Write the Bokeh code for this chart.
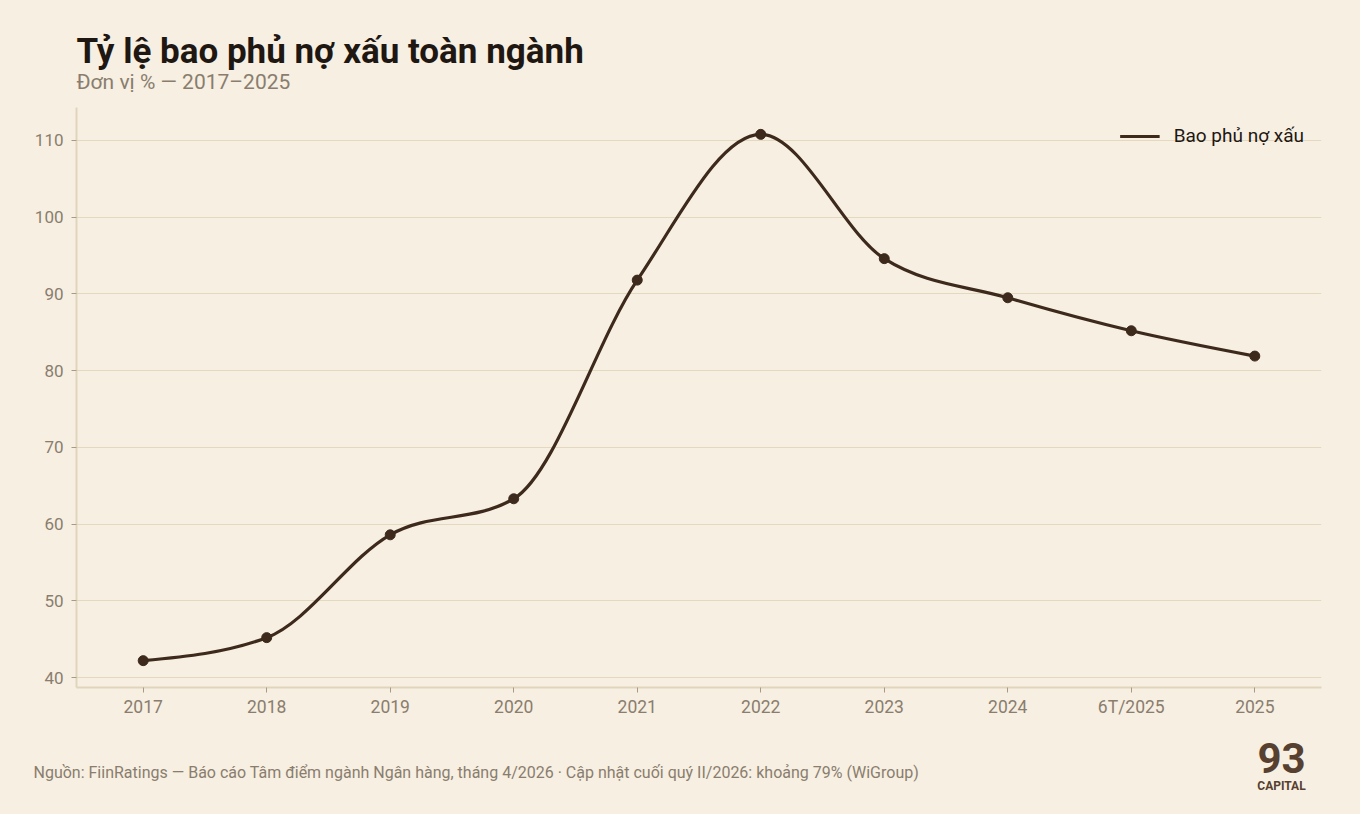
import numpy as np
from bokeh.plotting import figure
from bokeh.layouts import column
from bokeh.models import FixedTicker, Range1d, ColumnDataSource, Legend, LegendItem
from bokeh.core.properties import value
from bokeh.embed import file_html
from bokeh.resources import INLINE

# ---- data ----
categories = ["2017", "2018", "2019", "2020", "2021", "2022", "2023", "2024", "6T/2025", "2025"]
coverage = [42.2, 45.2, 58.6, 63.3, 91.8, 110.8, 94.6, 89.5, 85.2, 81.9]
y_ticks = [40, 50, 60, 70, 80, 90, 100, 110]
series_name = "Bao phủ nợ xấu"
title_text = "Tỷ lệ bao phủ nợ xấu toàn ngành"
subtitle_text = "Đơn vị % — 2017–2025"
source_text = "Nguồn: FiinRatings — Báo cáo Tâm điểm ngành Ngân hàng, tháng 4/2026 · Cập nhật cuối quý II/2026: khoảng 79% (WiGroup)"
logo_big = "93"
logo_small = "CAPITAL"

BG = "#f6efe2"
GRID = "#e4d8bf"
AXIS = "#e0d5bb"
TICK = "#a89a85"
MUTED = "#8a7d6e"
DARK = "#1f1712"
LINE = "#3d2a1c"
LOGO = "#57402f"
FONT = "Roboto"

W, H = 1360, 814
HEAD_H, MAIN_H, FOOT_H = 107, 623, 84   # total 814

def text_panel(h):
    f = figure(width=W, height=h, output_backend="svg", toolbar_location=None,
               x_range=Range1d(0, W), y_range=Range1d(0, h),
               x_axis_type=None, y_axis_type=None,
               min_border=0, min_border_left=0, min_border_right=0,
               min_border_top=0, min_border_bottom=0,
               background_fill_color=BG, border_fill_color=BG, outline_line_color=None)
    f.grid.visible = False
    return f

def put(fig, top, x, baseline_px, size, **kw):
    # baseline_px: page pixel of the text baseline; compensate bokeh's baseline offset
    y = (top + fig.height - baseline_px) + 0.36 * size
    fig.text(x=[x], y=[y], text_font=value(FONT), text_font_size="%gpx" % size,
             text_baseline="alphabetic", **kw)

# ---- header ----
head = text_panel(HEAD_H)
put(head, 0, 76, 64, 35, text=[title_text], text_font_style="bold", text_color=DARK)
put(head, 0, 76, 89, 21, text=[subtitle_text], text_color=MUTED)

# ---- main chart ----
xs = np.arange(len(categories), dtype=float)
ys = np.array(coverage, dtype=float)

# monotone-x cubic (d3 curveMonotoneX) tangents -> bezier segments
h = np.diff(xs)
s = np.diff(ys) / h
t = np.zeros(len(xs))
for i in range(1, len(xs) - 1):
    s0, s1 = s[i - 1], s[i]
    pp = (s0 * h[i] + s1 * h[i - 1]) / (h[i - 1] + h[i])
    t[i] = (np.sign(s0) + np.sign(s1)) * min(abs(s0), abs(s1), 0.5 * abs(pp))
t[0] = (3 * s[0] - t[1]) / 2
t[-1] = (3 * s[-1] - t[-2]) / 2
dx = h / 3.0
seg = ColumnDataSource(dict(
    x0=xs[:-1], y0=ys[:-1], x1=xs[1:], y1=ys[1:],
    cx0=xs[:-1] + dx, cy0=ys[:-1] + dx * t[:-1],
    cx1=xs[1:] - dx, cy1=ys[1:] - dx * t[1:],
))

FL, FR, FT, FB = 76, 39, 0, 43
p = figure(width=W, height=MAIN_H, output_backend="svg", toolbar_location=None,
           x_range=Range1d(-0.54, len(categories) - 1 + 0.54),
           y_range=Range1d(38.7, 114.3),
           min_border_left=FL, min_border_right=FR, min_border_top=FT, min_border_bottom=FB,
           background_fill_color=BG, border_fill_color=BG, outline_line_color=None)

p.bezier(x0="x0", y0="y0", x1="x1", y1="y1", cx0="cx0", cy0="cy0", cx1="cx1", cy1="cy1",
         source=seg, line_color=LINE, line_width=3.2)
p.scatter(xs, ys, size=10, fill_color=LINE, line_color=LINE)
leg_r = p.line(x=[np.nan], y=[np.nan], line_color=LINE, line_width=3.2)

legend = Legend(items=[LegendItem(label=series_name, renderers=[leg_r])],
                location="top_right", margin=0, padding=17, glyph_width=40, label_standoff=14,
                border_line_alpha=0, background_fill_alpha=0,
                label_text_font=FONT, label_text_font_size="19px", label_text_color=DARK)
p.add_layout(legend)

p.xaxis.ticker = FixedTicker(ticks=list(range(len(categories))))
p.xaxis.major_label_overrides = {i: c for i, c in enumerate(categories)}
p.yaxis.ticker = FixedTicker(ticks=y_ticks)
for ax in (p.xaxis, p.yaxis):
    ax.axis_line_color = AXIS
    ax.axis_line_width = 2
    ax.major_tick_line_color = TICK
    ax.major_tick_in = 0
    ax.major_tick_out = 5
    ax.minor_tick_line_color = None
    ax.major_label_text_font = FONT
    ax.major_label_text_font_size = "17px"
    ax.major_label_text_color = MUTED
p.xaxis.major_label_text_font_size = "17.5px"
p.xaxis.major_label_standoff = 4
p.yaxis.major_label_standoff = 8
p.xgrid.grid_line_color = None
p.ygrid.grid_line_color = GRID
p.ygrid.grid_line_width = 1

# ---- footer ----
foot = text_panel(FOOT_H)
FT0 = HEAD_H + MAIN_H
put(foot, FT0, 33, 778, 16, text=[source_text], text_color=MUTED)
put(foot, FT0, 1281, 773, 42, text=[logo_big], text_font_style="bold",
    text_color=LOGO, text_align="center")
put(foot, FT0, 1281, 789.5, 12, text=[logo_small], text_font_style="bold",
    text_color=LOGO, text_align="center")

layout = column(column(head), column(p), column(foot), spacing=0)
html = file_html(layout, INLINE)
html = html.replace("</head>", "<style>html,body{background:%s;}</style></head>" % BG, 1)
open("out.html", "w").write(html)
